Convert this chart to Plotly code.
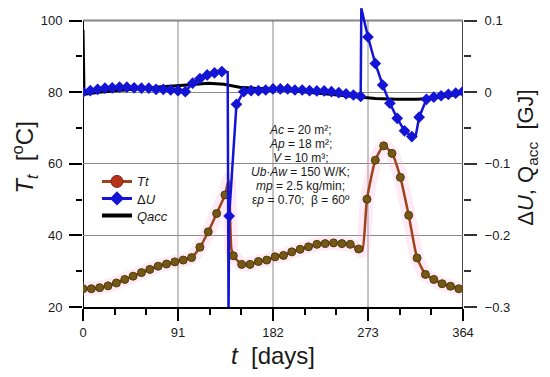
import plotly.graph_objects as go

# ---------------- data ----------------
tt_days = list(range(0, 361, 8))
tt_vals = [25.1, 25.1, 25.4, 25.9, 26.7, 27.7, 28.6, 29.6, 30.5, 31.4,
           32.0, 32.6, 33.1, 33.8, 36.7, 41.0, 46.1, 51.3, 34.3, 31.9,
           31.9, 32.7, 33.1, 34.0, 34.4, 35.4, 36.1, 36.8, 37.5, 37.7,
           37.9, 37.7, 37.5, 36.2, 50.1, 61.0, 65.0, 62.9, 56.2, 45.6,
           33.7, 29.1, 27.7, 26.5, 25.8, 25.1]
# extra (unmarked) points of the Tt curve
tt_extra_days = [139.5, 142.0, 267.5, 364.0]
tt_extra_vals = [55.5, 36.5, 35.7, 24.9]

du_days = list(range(0, 365, 7))
du_vals = [0.000, 0.002, 0.004, 0.0055, 0.006, 0.007, 0.007, 0.006, 0.0055, 0.0055,
           0.004, 0.004, 0.003, 0.002, 0.0007, 0.0125, 0.019, 0.024, 0.027, 0.0287,
           -0.173, -0.017, 0.0007, 0.002, 0.002, 0.003, 0.0045, 0.0045, 0.0045, 0.003,
           0.003, 0.002, 0.0017, 0.0017, 0.0007, -0.0007, -0.0025, -0.004, -0.006, 0.077,
           0.040, 0.010, -0.0155, -0.0365, -0.054, -0.062, -0.035, -0.010, -0.007, -0.005,
           -0.003, -0.0015, 0.001]
du_extra_days = [138.6, 139.4, 266.6, 318.6]
du_extra_vals = [0.028, -0.31, 0.117, -0.062]

qacc_days = [0, 1, 15, 30, 45, 60, 75, 90, 105, 120, 135, 150, 165, 180, 200, 220,
             240, 260, 280, 300, 320, 335, 350, 364]
qacc_vals = [0.087, -0.003, 0.0, 0.002, 0.0045, 0.006, 0.0075, 0.009, 0.011, 0.0125,
             0.011, 0.007, 0.0055, 0.0045, 0.002, -0.0007, -0.004, -0.007, -0.009,
             -0.010, -0.010, -0.0085, -0.0055, -0.0015]

x_ticks = [0, 91, 182, 273, 364]
x_minor = [30.33, 60.67, 121.33, 151.67, 212.33, 242.67, 303.33, 333.67]
y_ticks = [20, 40, 60, 80, 100]
y_minor = [30, 50, 70, 90]
y2_ticks = [-0.3, -0.2, -0.1, 0, 0.1]
y2_text = ["\u22120.3", "\u22120.2", "\u22120.1", "0", "0.1"]
y2_minor = [-0.25, -0.15, -0.05, 0.05]

x_range = [0, 364]
y_range = [20, 103.5]
y2_range = [-0.3, 0.1175]

legend_names = ["<i>Tt</i>", "\u0394<i>U</i>", "<i>Qacc</i>"]
param_lines = ["<i>Ac</i> = 20 m\u00b2;",
               "<i>Ap</i> = 18 m\u00b2;",
               "<i>V</i> = 10 m\u00b3;",
               "<i>Ub</i>\u00b7<i>Aw</i> = 150 W/K;",
               "<i>mp</i> = 2.5 kg/min;",
               "\u03b5<i>p</i> = 0.70;  \u03b2 = 60\u00ba"]

# ---------------- figure ----------------
def merged(d1, v1, d2, v2):
    pts = sorted(zip(list(d1) + list(d2), list(v1) + list(v2)))
    return [p[0] for p in pts], [p[1] for p in pts]

tt_lx, tt_ly = merged(tt_days, tt_vals, tt_extra_days, tt_extra_vals)
du_lx, du_ly = merged(du_days, du_vals, du_extra_days, du_extra_vals)

FONT = "Liberation Sans, Arial, sans-serif"
TT_LINE = "#a0421a"
TT_MARK = "#765816"
DU_COL = "#1414d4"

fig = go.Figure()

# faint pink halo behind Tt
fig.add_trace(go.Scatter(x=tt_lx, y=tt_ly, mode="lines",
                         line=dict(color="rgba(255,175,220,0.25)", width=14, shape="spline", smoothing=0.5),
                         showlegend=False, hoverinfo="skip"))
fig.add_trace(go.Scatter(x=tt_lx, y=tt_ly, mode="lines",
                         line=dict(color=TT_LINE, width=2.5, shape="spline", smoothing=0.5),
                         showlegend=False))
fig.add_trace(go.Scatter(x=tt_days, y=tt_vals, mode="markers",
                         marker=dict(symbol="circle", size=8, color=TT_MARK, line=dict(color="#4e3a0a", width=1)),
                         showlegend=False))

fig.add_trace(go.Scatter(x=qacc_days, y=qacc_vals, yaxis="y2", mode="lines",
                         line=dict(color="black", width=3), showlegend=False))
fig.add_trace(go.Scatter(x=du_lx, y=du_ly, yaxis="y2", mode="lines",
                         line=dict(color=DU_COL, width=2.5), showlegend=False))
fig.add_trace(go.Scatter(x=du_days, y=du_vals, yaxis="y2", mode="markers",
                         marker=dict(symbol="diamond", size=9, color=DU_COL), showlegend=False))

# legend entries (one legend per row for exact spacing)
fig.add_trace(go.Scatter(x=[None], y=[None], mode="lines+markers", name=legend_names[0], legend="legend",
                         line=dict(color=TT_LINE, width=3),
                         marker=dict(symbol="circle", size=12, color="#b8321c", line=dict(color="#7a2a10", width=1))))
fig.add_trace(go.Scatter(x=[None], y=[None], mode="lines+markers", name=legend_names[1], legend="legend2",
                         line=dict(color=DU_COL, width=3),
                         marker=dict(symbol="diamond", size=11, color=DU_COL)))
fig.add_trace(go.Scatter(x=[None], y=[None], mode="lines", name=legend_names[2], legend="legend3",
                         line=dict(color="black", width=4)))

# geometry (the page adds an 8px body margin; plot area placed to match)
W, H = 542, 369
ML, MR, MT, MB = 75, 86.7, 0.2, 70.3
PH = H - MT - MB
PW = W - ML - MR

def px_y(y_screen):  # screen y (window coords) -> paper fraction
    return (H - MB + 8 - y_screen) / PH

def px_x(x_screen):
    return (x_screen - 8 - ML) / PW

shapes = []
for gx in x_ticks[1:-1]:
    shapes.append(dict(type="line", xref="x", yref="y", x0=gx, x1=gx, y0=y_ticks[0], y1=y_ticks[-1],
                       line=dict(color="#8a8a8a", width=1), layer="below"))
shapes.append(dict(type="rect", xref="paper", yref="paper", x0=px_x(245), x1=px_x(362), y0=px_y(218), y1=px_y(115),
                   fillcolor="white", line=dict(width=0), layer="below"))
shapes.append(dict(type="line", xref="x", yref="y", x0=x_range[0], x1=x_range[1], y0=y_ticks[-1], y1=y_ticks[-1],
                   line=dict(color="black", width=1.5), layer="below"))
shapes.append(dict(type="line", xref="x", yref="y", x0=x_range[0], x1=x_range[0], y0=y_ticks[0], y1=y_ticks[-1],
                   line=dict(color="black", width=2), layer="below"))
shapes.append(dict(type="line", xref="x", yref="y", x0=x_range[1], x1=x_range[1], y0=y_ticks[0], y1=y_ticks[-1],
                   line=dict(color="#444444", width=2), layer="below"))

line_y = [129.5, 143.5, 157.5, 172, 186, 200]
annotations = [dict(x=px_x(301), y=px_y(yc), xref="paper", yref="paper", text=t, showarrow=False,
                    xanchor="center", yanchor="middle", align="center",
                    font=dict(size=12, family=FONT, color="#1a1a1a"))
               for t, yc in zip(param_lines, line_y)]

leg_common = dict(xanchor="left", yanchor="top", bgcolor="rgba(0,0,0,0)",
                  font=dict(size=13, family=FONT, color="#1a1a1a"), itemwidth=30)
leg_x = px_x(97)
leg_top = [182 - 15.6, 199 - 15.6, 216 - 15.6]

fig.update_layout(
    width=W, height=H,
    margin=dict(l=ML, r=MR, t=MT, b=MB),
    paper_bgcolor="white", plot_bgcolor="white",
    font=dict(family=FONT, color="#1a1a1a", size=13),
    shapes=shapes,
    annotations=annotations,
    showlegend=True,
    legend=dict(x=leg_x, y=px_y(leg_top[0]), **leg_common),
    legend2=dict(x=leg_x, y=px_y(leg_top[1]), **leg_common),
    legend3=dict(x=leg_x, y=px_y(leg_top[2]), **leg_common),
    xaxis=dict(range=x_range, tickmode="array", tickvals=x_ticks, showgrid=False, zeroline=False,
               showline=True, linecolor="black", linewidth=2,
               ticks="outside", ticklen=12, tickwidth=1.5, tickcolor="black",
               minor=dict(tickmode="array", tickvals=x_minor, ticks="outside", ticklen=6, tickwidth=1.5, tickcolor="black"),
               tickfont=dict(size=13),
               title=dict(text="<i>t</i>  [days]", font=dict(size=24), standoff=9)),
    yaxis=dict(range=y_range, tickmode="array", tickvals=y_ticks, showgrid=True, gridcolor="#8a8a8a", gridwidth=1,
               zeroline=False, showline=False,
               ticks="outside", ticklen=13, tickwidth=1.5, tickcolor="black",
               minor=dict(tickmode="array", tickvals=y_minor, ticks="outside", ticklen=6, tickwidth=1.5, tickcolor="black"),
               tickfont=dict(size=13), ticklabelstandoff=4,
               title=dict(text="<i>T<sub>t</sub></i>  [<sup>o</sup>C]", font=dict(size=24), standoff=8)),
    yaxis2=dict(range=y2_range, overlaying="y", side="right", tickmode="array", tickvals=y2_ticks, ticktext=y2_text,
                showgrid=False, zeroline=False, showline=False,
                ticks="outside", ticklen=13, tickwidth=1.5, tickcolor="#333333",
                minor=dict(tickmode="array", tickvals=y2_minor, ticks="outside", ticklen=7, tickwidth=1.5, tickcolor="#333333"),
                tickfont=dict(size=13), ticklabelstandoff=5,
                title=dict(text="\u0394<i>U</i>, Q<sub>acc</sub>  [GJ]", font=dict(size=22), standoff=8)),
)

fig.write_html("out.html")
